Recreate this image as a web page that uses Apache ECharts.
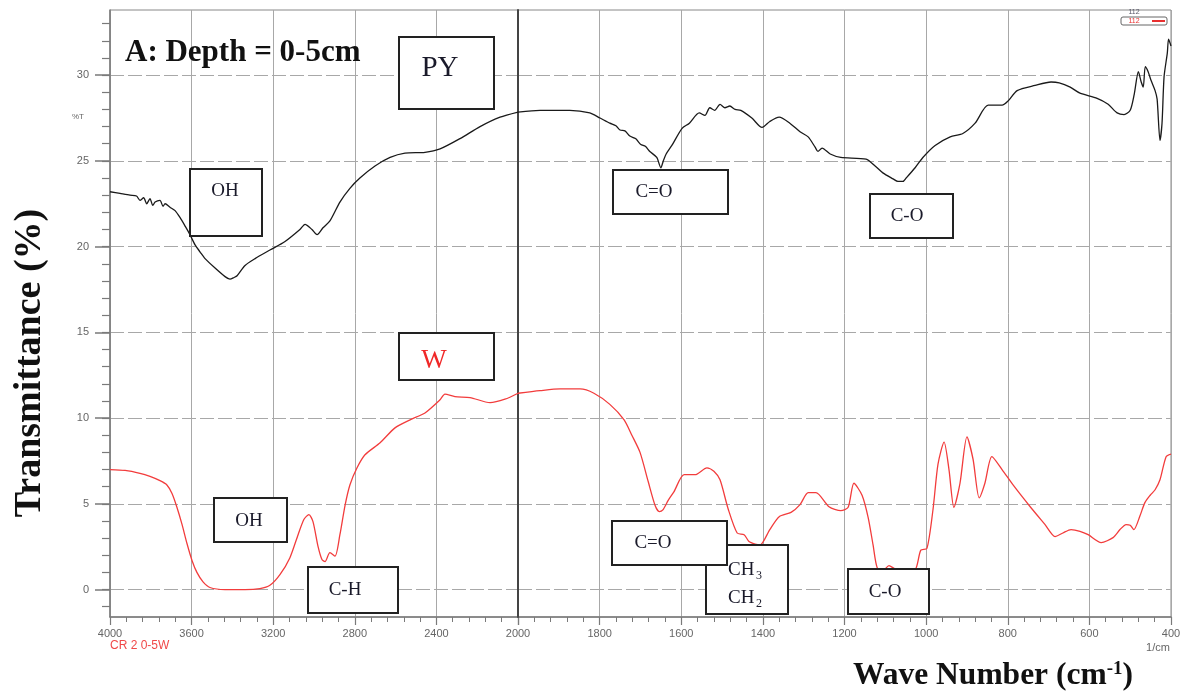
<!DOCTYPE html>
<html>
<head>
<meta charset="utf-8">
<script src="https://cdn.jsdelivr.net/npm/echarts@6/dist/echarts.min.js"></script>
<style>
html, body { margin: 0; padding: 0; background: #fff; }
#chart { width: 1182px; height: 698px; }
</style>
</head>
<body>
<div id="chart"></div>
<script>
// FTIR spectra, depth 0-5 cm: PY (black) and W (red), %T vs wavenumber (cm-1)
const pyWave = [4000, 3951, 3902, 3870, 3853, 3835, 3820, 3804, 3790, 3779, 3755, 3740, 3730, 3706, 3681, 3657, 3632, 3608, 3583, 3559, 3534, 3485, 3436, 3412, 3392, 3377, 3338, 3289, 3216, 3142, 3069, 3044, 3010, 2985, 2956, 2922, 2873, 2824, 2775, 2701, 2627, 2554, 2456, 2382, 2284, 2186, 2088, 2000,
  1946, 1873, 1824, 1799, 1775, 1760, 1750, 1738, 1726, 1712, 1699, 1688, 1677, 1660, 1650, 1644, 1637, 1623, 1598, 1580, 1556, 1542, 1530, 1518, 1505, 1493, 1481, 1468, 1454, 1427, 1402, 1383, 1360, 1334, 1309, 1289, 1272, 1265, 1255, 1235, 1209, 1147, 1125, 1106, 1081, 1069, 1057, 1049, 1027, 1008, 978, 941, 910, 880, 848, 814, 799, 777, 733, 694, 674, 647, 623, 581, 554, 532, 515, 500, 490, 480, 473, 468, 463, 456, 449, 439, 434, 427, 422, 417, 409, 406, 400];
const pyT = [23.2, 23.1, 23.0, 22.95, 22.7, 22.85, 22.5, 22.8, 22.4, 22.6, 22.7, 22.35, 22.5, 22.3, 22.1, 21.7, 21.2, 20.7, 20.1, 19.7, 19.3, 18.75, 18.25, 18.1, 18.2, 18.3, 18.9, 19.3, 19.8, 20.3, 21.0, 21.3, 21.0, 20.7, 21.1, 21.5, 22.6, 23.4, 24.0, 24.7, 25.2, 25.45, 25.5, 25.7, 26.3, 27.0, 27.55, 27.85,
  27.95, 27.95, 27.8, 27.5, 27.2, 27.05, 26.8, 26.75, 26.45, 26.3, 25.95, 25.85, 25.55, 25.2, 24.6, 25.0, 25.4, 25.9, 26.9, 27.2, 27.8, 27.65, 28.1, 27.95, 28.3, 28.1, 28.2, 28.0, 27.95, 27.5, 26.95, 27.3, 27.55, 27.2, 26.7, 26.4, 25.8, 25.55, 25.75, 25.4, 25.2, 25.1, 24.7, 24.3, 23.95, 23.8, 23.8, 24.0, 24.6, 25.2, 25.9, 26.4, 26.6, 27.2, 28.25, 28.25, 28.5, 29.1, 29.4, 29.6, 29.55, 29.3, 28.95, 28.65, 28.3, 27.8, 27.7, 27.95, 28.9, 30.2, 29.6, 29.3, 30.5, 30.2, 29.7, 29.1, 28.6, 26.2, 27.2, 29.9, 31.3, 32.1, 31.7];

const wWave = [4000, 3926, 3853, 3804, 3755, 3721, 3696, 3672, 3647, 3623, 3598, 3574, 3544, 3510, 3436, 3338, 3265, 3216, 3167, 3118, 3078, 3049, 3025, 3005, 2980, 2961, 2946, 2922, 2897, 2873, 2848, 2824, 2789, 2750, 2676, 2603, 2529, 2456, 2382, 2358, 2309, 2235, 2137, 2064, 2000,
  1946, 1897, 1848, 1814, 1775, 1740, 1721, 1701, 1681, 1664, 1654, 1645, 1632, 1618, 1593, 1566, 1537, 1520, 1505, 1485, 1463, 1446, 1434, 1419, 1407, 1383, 1360, 1331, 1309, 1289, 1270, 1238, 1209, 1191, 1177, 1157, 1142, 1130, 1120, 1106, 1091, 1076, 1052, 1027, 1013, 998, 983, 971, 956, 944, 932, 917, 900, 885, 870, 856, 839, 814, 787, 745, 709, 684, 665, 645, 623, 603, 571, 542, 525, 510, 500, 491, 476, 464, 451, 439, 427, 412, 400];
const wT = [7.0, 6.95, 6.78, 6.6, 6.35, 6.1, 5.6, 4.8, 3.8, 2.7, 1.7, 1.0, 0.45, 0.12, 0.0, 0.0, 0.06, 0.25, 0.87, 1.86, 3.2, 4.1, 4.37, 3.96, 2.5, 1.75, 1.63, 2.15, 1.95, 3.2, 4.9, 6.1, 7.1, 7.86, 8.56, 9.43, 9.9, 10.3, 11.07, 11.4, 11.25, 11.2, 10.9, 11.1, 11.45,
  11.6, 11.7, 11.7, 11.45, 10.8, 9.9, 9.0, 8.0, 6.3, 4.9, 4.55, 4.65, 5.2, 5.7, 6.7, 6.7, 7.1, 6.9, 6.4, 4.7, 3.3, 3.2, 2.8, 2.65, 2.6, 3.5, 4.25, 4.5, 4.95, 5.65, 5.65, 4.83, 4.6, 4.8, 6.2, 5.5, 4.2, 2.6, 1.28, 1.1, 1.4, 1.2, 1.1, 1.16, 2.3, 2.4, 4.7, 7.3, 8.6, 7.0, 4.8, 6.2, 8.9, 7.6, 5.35, 6.2, 7.75, 7.0, 6.1, 4.83, 3.8, 3.09, 3.3, 3.5, 3.4, 3.2, 2.74, 3.03, 3.5, 3.79, 3.75, 3.5, 4.3, 5.07, 5.5, 5.82, 6.4, 7.75, 7.9];

// Axis ticks: the wavenumber axis is split at 2000 cm-1 (coarser scale above it)
const xTicksHigh = [4000, 3600, 3200, 2800, 2400, 2000];
const xTicksLow = [2000, 1800, 1600, 1400, 1200, 1000, 800, 600, 400];
const yTicks = [0, 5, 10, 15, 20, 25, 30];
const yRange = [-1.6, 33.8];
const splitWave = 2000;

const yMinorTicks = [];
for (let v = -1; v <= 33; v++) yMinorTicks.push(v);

function pairs(wave, vals, keep) {
  const out = [];
  for (let i = 0; i < wave.length; i++) if (keep(wave[i])) out.push([wave[i], vals[i]]);
  return out;
}
const pyHigh = pairs(pyWave, pyT, w => w >= splitWave);
const pyLow = pairs(pyWave, pyT, w => w <= splitWave);
const wHigh = pairs(wWave, wT, w => w >= splitWave);
const wLow = pairs(wWave, wT, w => w <= splitWave);

const GRID_TOP = 10, GRID_H = 607;
const axisGray = '#7a7a7a';
const gridGray = '#a8a8a8';
const tickFont = { fontFamily: 'Liberation Sans', fontSize: 11, color: '#666' };

function xAxisFor(gridIndex, ticks, hideValue) {
  const lo = Math.min(...ticks), hi = Math.max(...ticks);
  return {
    gridIndex, type: 'value', inverse: true, min: lo, max: hi,
    interval: Math.abs(ticks[0] - ticks[1]),
    axisLine: { show: true, onZero: false, lineStyle: { color: axisGray, width: 1.5 } },
    axisTick: { show: true, length: 8, lineStyle: { color: axisGray, width: 1.2 } },
    minorTick: { show: true, splitNumber: 5, length: 5, lineStyle: { color: axisGray, width: 1 } },
    axisLabel: Object.assign({ margin: 11, formatter: v => (v === hideValue ? '' : String(v)) }, tickFont),
    splitLine: { show: true, lineStyle: { color: gridGray, width: 1, type: 'solid' } },
    minorSplitLine: { show: false }
  };
}

const labelFont = 'Liberation Serif';
const inkColor = '#1a1a2a';

// white box with a black border and its caption(s)
function boxedLabel(x, y, w, h, texts, z) {
  z = z || 50;
  const children = [
    { type: 'rect', z, shape: { x, y, width: w, height: h },
      style: { fill: '#fff', stroke: '#222', lineWidth: 2 } }
  ];
  texts.forEach(t => {
    children.push({ type: 'text', z: z + 1, x: t.x, y: t.y,
      style: { text: t.text, fontFamily: labelFont, fontSize: t.size || 19,
        fill: t.color || inkColor, align: t.align || 'center', verticalAlign: 'middle' } });
  });
  return { type: 'group', children };
}

const chart = echarts.init(document.getElementById('chart'), null, { renderer: 'canvas' });
chart.setOption({
  animation: false,
  backgroundColor: '#fff',
  grid: [
    { left: 110, top: GRID_TOP, width: 408, height: GRID_H, show: true, borderColor: '#888', borderWidth: 1, containLabel: false, outerBoundsMode: 'none' },
    { left: 518, top: GRID_TOP, width: 653, height: GRID_H, show: true, borderColor: '#888', borderWidth: 1, containLabel: false, outerBoundsMode: 'none' }
  ],
  xAxis: [
    xAxisFor(0, xTicksHigh, splitWave),
    xAxisFor(1, xTicksLow, null)
  ],
  yAxis: [
    {
      gridIndex: 0, type: 'value', position: 'left', min: yRange[0], max: yRange[1],
      axisLine: { show: true, onZero: false, lineStyle: { color: axisGray, width: 1.5 } },
      axisTick: { show: true, length: 15, customValues: yTicks, lineStyle: { color: axisGray, width: 1.5 } },
      axisLabel: Object.assign({ margin: 21, customValues: yTicks }, tickFont),
      splitLine: { show: true, lineStyle: { color: gridGray, width: 1, type: [14, 4] } }
    },
    {
      gridIndex: 0, type: 'value', position: 'left', offset: 0, min: yRange[0], max: yRange[1],
      axisLine: { show: false, onZero: false },
      axisTick: { show: true, length: 8, customValues: yMinorTicks, lineStyle: { color: axisGray, width: 1.2 } },
      axisLabel: { show: false },
      splitLine: { show: false }
    },
    {
      gridIndex: 1, type: 'value', position: 'left', min: yRange[0], max: yRange[1], z: 5,
      axisLine: { show: true, onZero: false, lineStyle: { color: '#444', width: 2 } },
      axisTick: { show: false, customValues: yTicks },
      axisLabel: { show: false, customValues: yTicks },
      splitLine: { show: true, lineStyle: { color: gridGray, width: 1, type: [14, 4] } }
    }
  ],
  series: [
    { name: 'PY', type: 'line', xAxisIndex: 0, yAxisIndex: 0, data: pyHigh, showSymbol: false, smooth: 0.25, lineStyle: { color: '#1a1a1a', width: 1.3 }, z: 10 },
    { name: 'PY', type: 'line', xAxisIndex: 1, yAxisIndex: 2, data: pyLow, showSymbol: false, smooth: 0.25, lineStyle: { color: '#1a1a1a', width: 1.3 }, z: 10 },
    { name: 'W', type: 'line', xAxisIndex: 0, yAxisIndex: 0, data: wHigh, showSymbol: false, smooth: 0.25, lineStyle: { color: '#f23c3c', width: 1.3 }, z: 10 },
    { name: 'W', type: 'line', xAxisIndex: 1, yAxisIndex: 2, data: wLow, showSymbol: false, smooth: 0.25, lineStyle: { color: '#f23c3c', width: 1.3 }, z: 10 }
  ],
  graphic: [
    // axis titles
    { type: 'text', x: 30, y: 363, rotation: Math.PI / 2, z: 60,
      style: { text: 'Transmittance (%)', fontFamily: labelFont, fontWeight: 'bold', fontSize: 38, fill: '#111', align: 'center', verticalAlign: 'middle' } },
    { type: 'text', x: 993, y: 676, z: 60,
      style: { text: 'Wave Number (cm{sup|-1})', fontFamily: labelFont, fontWeight: 'bold', fontSize: 31.5, fill: '#111', align: 'center', verticalAlign: 'middle',
        rich: { sup: { fontFamily: labelFont, fontWeight: 'bold', fontSize: 19, fill: '#111', verticalAlign: 'top', padding: [0, 0, 10, 0] } } } },
    { type: 'text', x: 125, y: 53, z: 60,
      style: { text: 'A: Depth = 0-5cm', fontFamily: labelFont, fontWeight: 'bold', fontSize: 31, fill: '#111', align: 'left', verticalAlign: 'middle' } },
    // small axis captions
    { type: 'text', x: 78, y: 117, z: 60,
      style: { text: '%T', fontFamily: 'Liberation Sans', fontSize: 8, fill: '#666', align: 'center', verticalAlign: 'middle' } },
    { type: 'text', x: 110, y: 646, z: 60,
      style: { text: 'CR 2 0-5W', fontFamily: 'Liberation Sans', fontSize: 12, fill: '#f04848', align: 'left', verticalAlign: 'middle' } },
    { type: 'text', x: 1158, y: 648, z: 60,
      style: { text: '1/cm', fontFamily: 'Liberation Sans', fontSize: 11, fill: '#666', align: 'center', verticalAlign: 'middle' } },
    // mini trace indicator, top right
    { type: 'text', x: 1134, y: 12, z: 60,
      style: { text: '112', fontFamily: 'Liberation Sans', fontSize: 7, fill: '#556', align: 'center', verticalAlign: 'middle' } },
    { type: 'rect', z: 60, shape: { x: 1121, y: 17, width: 46, height: 8, r: 2 }, style: { fill: '#fff', stroke: '#666', lineWidth: 1 } },
    { type: 'text', x: 1134, y: 21, z: 61,
      style: { text: '112', fontFamily: 'Liberation Sans', fontSize: 7, fill: '#e83030', align: 'center', verticalAlign: 'middle' } },
    { type: 'line', z: 61, shape: { x1: 1152, y1: 21, x2: 1165, y2: 21 }, style: { stroke: '#e83030', lineWidth: 2 } },
    // band annotations
    boxedLabel(399, 37, 95, 72, [{ x: 440, y: 68, text: 'PY', size: 29 }]),
    boxedLabel(190, 169, 72, 67, [{ x: 225, y: 191, text: 'OH' }]),
    boxedLabel(613, 170, 115, 44, [{ x: 654, y: 192, text: 'C=O' }]),
    boxedLabel(870, 194, 83, 44, [{ x: 907, y: 216, text: 'C-O' }]),
    boxedLabel(399, 333, 95, 47, [{ x: 434, y: 361, text: 'W', size: 27, color: '#f02828' }]),
    boxedLabel(214, 498, 73, 44, [{ x: 249, y: 521, text: 'OH' }]),
    boxedLabel(308, 567, 90, 46, [{ x: 345, y: 590, text: 'C-H' }]),
    boxedLabel(706, 545, 82, 69, [
      { x: 728, y: 570, text: 'CH', align: 'left' },
      { x: 756, y: 576, text: '3', size: 12, align: 'left' },
      { x: 728, y: 598, text: 'CH', align: 'left' },
      { x: 756, y: 604, text: '2', size: 12, align: 'left' }
    ], 50),
    boxedLabel(612, 521, 115, 44, [{ x: 653, y: 543, text: 'C=O' }], 53),
    boxedLabel(848, 569, 81, 45, [{ x: 885, y: 592, text: 'C-O' }])
  ]
});
</script>
</body>
</html>
